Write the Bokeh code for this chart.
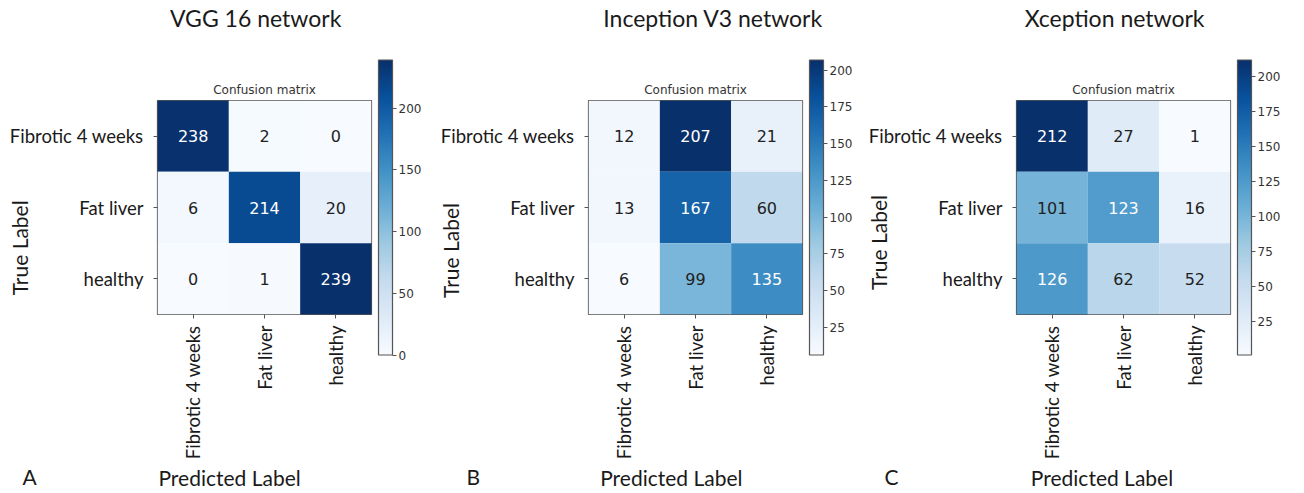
import numpy as np
from math import pi
from bokeh.plotting import figure
from bokeh.models import (ColumnDataSource, LinearColorMapper, FixedTicker, FactorRange,
                          ColorBar, Title, LinearAxis)
from bokeh.layouts import row
from bokeh.palettes import Blues256
from bokeh.embed import file_html
from bokeh.resources import INLINE
from bokeh.core.properties import value

# ---------------- data ----------------
classes = ["Fibrotic 4 weeks", "Fat liver", "healthy"]
vgg16 = [[238, 2, 0], [6, 214, 20], [0, 1, 239]]
inception_v3 = [[12, 207, 21], [13, 167, 60], [6, 99, 135]]
xception = [[212, 27, 1], [101, 123, 16], [126, 62, 52]]
titles = ["VGG 16 network", "Inception V3 network", "Xception network"]
panel_letters = ["A", "B", "C"]
cbar_ticks_a = [0, 50, 100, 150, 200]
cbar_ticks_bc = [25, 50, 75, 100, 125, 150, 175, 200]

matrices = [vgg16, inception_v3, xception]
cbar_ticks = [cbar_ticks_a, cbar_ticks_bc, cbar_ticks_bc]

# ---------------- layout / style ----------------
FRAME = 214
TOP = 100
BOTTOM = 179
NB = "\u00a0"
layout = [
    # border left/right; nbsp padding (lead/trail) of title, True Label, Predicted Label; letter offset
    dict(bl=157, br=60, tl=0, tr=3, ny=15, nx=13, lo=-135),
    dict(bl=157, br=60, tl=6, tr=0, ny=16, nx=9, lo=-122),
    dict(bl=154, br=60, tl=0, tr=3, ny=13, nx=8, lo=-132),
]
palette = list(reversed(Blues256))
LABEL_FONT = "Lato"
NUM_FONT = "DejaVu Sans"
GRAY = "#555555"
INK = "#1a1a1a"

children = []
for k, cm in enumerate(matrices):
    L = layout[k]
    arr = np.array(cm)
    lo, hi = int(arr.min()), int(arr.max())
    mapper = LinearColorMapper(palette=palette, low=lo, high=hi)
    xs, ys, vals, tcol, txt = [], [], [], [], []
    for i, t in enumerate(classes):
        for j, pcl in enumerate(classes):
            v = cm[i][j]
            xs.append(pcl); ys.append(t); vals.append(v); txt.append(str(v))
            tcol.append("white" if v > hi / 2 else "#222222")
    src = ColumnDataSource(dict(x=xs, y=ys, v=vals, c=tcol, t=txt))

    p = figure(x_range=FactorRange(*classes), y_range=FactorRange(*reversed(classes)),
               frame_width=FRAME, frame_height=FRAME, output_backend="svg", toolbar_location=None,
               min_border_left=L["bl"], min_border_right=L["br"], min_border_top=TOP,
               min_border_bottom=BOTTOM, tools="")
    p.rect("x", "y", 1, 1, source=src, fill_color={"field": "v", "transform": mapper}, line_color=None)
    p.text("x", "y", text="t", source=src, text_color="c", text_align="center",
           text_baseline="middle", text_font=value(NUM_FONT), text_font_size="16px")
    p.grid.visible = False
    p.outline_line_color = GRAY
    p.outline_line_width = 1.2
    p.outline_line_alpha = 1
    p.background_fill_color = "white"
    p.border_fill_color = "white"
    for ax in (p.xaxis[0], p.yaxis[0]):
        ax.axis_line_color = None
        ax.major_tick_in = 0
        ax.major_tick_out = 4
        ax.major_tick_line_color = GRAY
        ax.major_label_text_font = LABEL_FONT
        ax.major_label_text_font_size = "18.5px"
        ax.major_label_text_color = INK
        ax.axis_label_text_font = LABEL_FONT
        ax.axis_label_text_font_size = "21px"
        ax.axis_label_text_font_style = "normal"
        ax.axis_label_text_color = INK
    p.xaxis.major_label_orientation = pi / 2
    p.xaxis.major_label_standoff = 7
    p.yaxis.major_label_standoff = 10
    p.yaxis.axis_label = "True Label" + NB * L["ny"]
    p.yaxis.axis_label_standoff = -25
    p.xaxis.axis_label = "Predicted Label" + NB * L["nx"]
    p.xaxis.axis_label_standoff = 3

    # above: "Confusion matrix" close to the frame, network title further up
    p.add_layout(Title(text="Confusion matrix", align="center", vertical_align="bottom", standoff=8,
                       text_font=NUM_FONT, text_font_size="12px", text_font_style="normal",
                       text_color="#333333"), "above")
    top_axis = LinearAxis(ticker=FixedTicker(ticks=[]), major_tick_out=0, major_tick_in=0,
                          axis_line_color=None, major_tick_line_color=None,
                          minor_tick_line_color=None, major_label_text_font_size="0px",
                          axis_label=NB * L["tl"] + titles[k] + NB * L["tr"],
                          axis_label_standoff=45, axis_label_text_font=LABEL_FONT,
                          axis_label_text_font_size="23px", axis_label_text_font_style="normal",
                          axis_label_text_color=INK)
    p.add_layout(top_axis, "above")
    # panel letter on the same line as the x-axis label
    p.add_layout(Title(text=panel_letters[k], align="left", offset=L["lo"], vertical_align="top",
                       standoff=-60, text_font=LABEL_FONT, text_font_size="21px",
                       text_font_style="normal", text_color=INK), "below")

    cb = ColorBar(color_mapper=mapper, ticker=FixedTicker(ticks=cbar_ticks[k]), width=14, height=295,
                  location="center_left", margin=0, padding=7, orientation="vertical",
                  bar_line_color=GRAY, bar_line_width=1.2, major_tick_in=0, major_tick_out=4,
                  major_tick_line_color=GRAY, minor_tick_line_color=None, label_standoff=2,
                  major_label_text_font=NUM_FONT, major_label_text_font_size="12px",
                  major_label_text_color="#333333", background_fill_color=None)
    p.add_layout(cb, "right")
    children.append(p)

layout_row = row(*children, spacing=0)
open("out.html", "w").write(file_html(layout_row, INLINE))
